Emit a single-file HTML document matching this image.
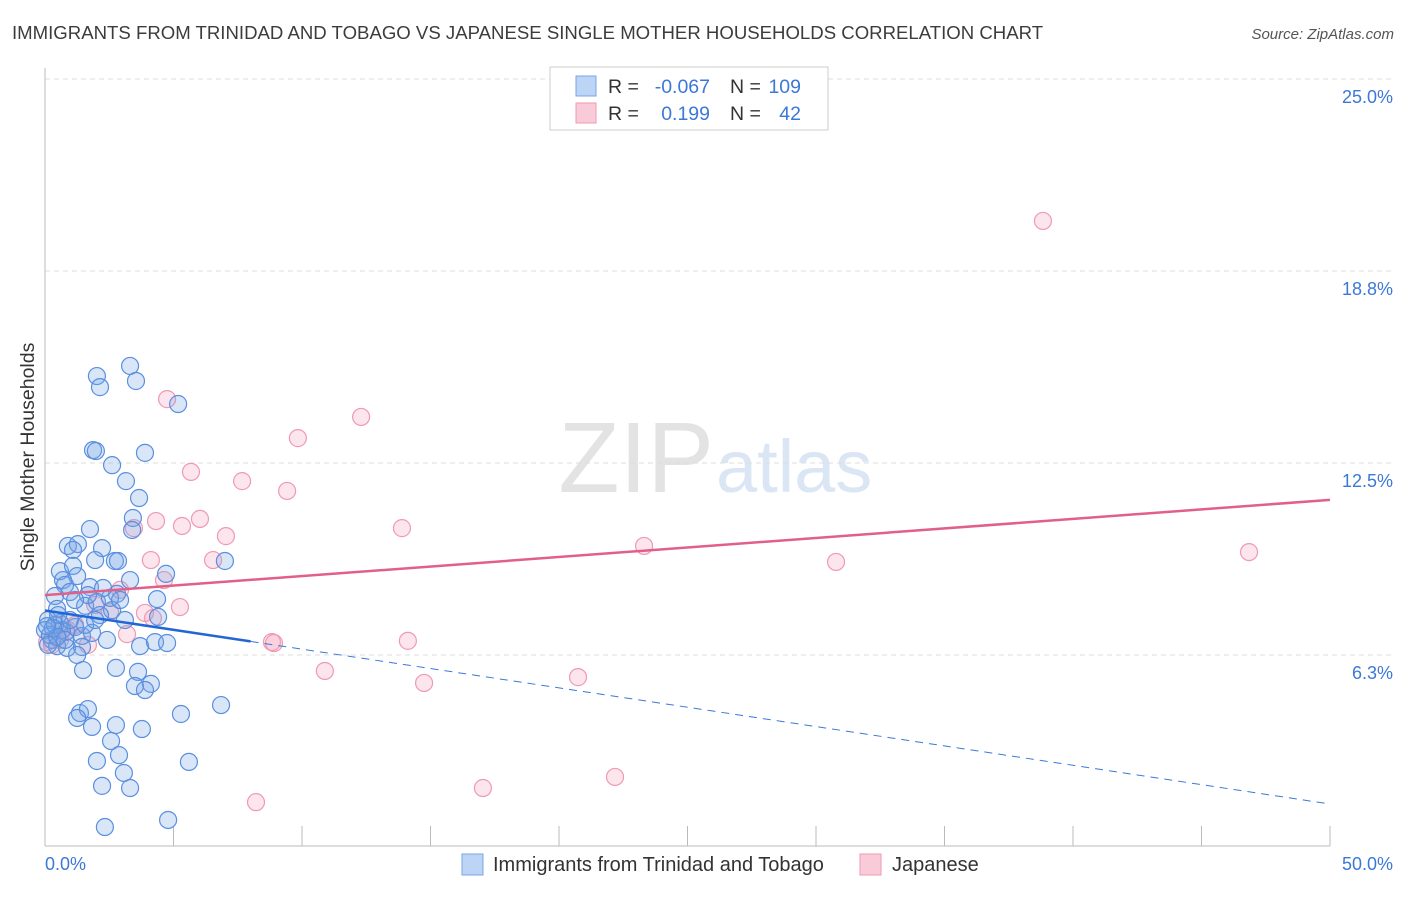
<!DOCTYPE html>
<html><head><meta charset="utf-8"><style>
body{margin:0;background:#fff;font-family:"Liberation Sans",sans-serif;}
svg text{font-family:"Liberation Sans",sans-serif;}
</style></head><body>
<svg id="chart" width="1406" height="892">
<text x="12" y="39" font-size="18.6" fill="#3c3c3c">IMMIGRANTS FROM TRINIDAD AND TOBAGO VS JAPANESE SINGLE MOTHER HOUSEHOLDS CORRELATION CHART</text>
<text x="1394" y="39" font-size="15" fill="#555" font-style="italic" text-anchor="end">Source: ZipAtlas.com</text>
<text x="714" y="492" font-size="100" fill="#e3e3e3" text-anchor="end" font-family="Liberation Serif">ZIP</text>
<text x="716" y="492" font-size="74" fill="#dbe6f5">atlas</text>
<g id="grid"></g><g id="pts"></g><g id="lines"></g>
<text transform="translate(34,457) rotate(-90)" font-size="19.5" fill="#333" text-anchor="middle">Single Mother Households</text>
<text x="45" y="870" font-size="18" fill="#3b78d8">0.0%</text>
<text x="1393" y="870" font-size="18" fill="#3b78d8" text-anchor="end">50.0%</text>
<g>
<rect x="550" y="67" width="278" height="63" fill="#fff" stroke="#ccc"/>
<rect x="576" y="76" width="20" height="20" fill="#bcd4f5" stroke="#7aa6e6"/>
<rect x="576" y="103" width="20" height="20" fill="#f9cad7" stroke="#ee9ab2"/>
<text x="608" y="93" font-size="19.5" fill="#333">R =</text>
<text x="710" y="93" font-size="19.5" fill="#3b78d8" text-anchor="end">-0.067</text>
<text x="730" y="93" font-size="19.5" fill="#333">N =</text>
<text x="801" y="93" font-size="19.5" fill="#3b78d8" text-anchor="end">109</text>
<text x="608" y="120" font-size="19.5" fill="#333">R =</text>
<text x="710" y="120" font-size="19.5" fill="#3b78d8" text-anchor="end">0.199</text>
<text x="730" y="120" font-size="19.5" fill="#333">N =</text>
<text x="801" y="120" font-size="19.5" fill="#3b78d8" text-anchor="end">42</text>
</g>
<g>
<rect x="462" y="854" width="21" height="21" fill="#bcd4f5" stroke="#7aa6e6"/>
<text x="493" y="871" font-size="20" fill="#333">Immigrants from Trinidad and Tobago</text>
<rect x="860" y="854" width="21" height="21" fill="#f9cad7" stroke="#ee9ab2"/>
<text x="892" y="871" font-size="20" fill="#333">Japanese</text>
</g>
</svg>
<script>
const yTicks=[6.3,12.5,18.8,25.0];
const yTickVals=[6.25,12.5,18.75,25];
const bluePx=[[130,366],[97,376],[136,381],[100,387],[178,404],[93,450],[96,451],[145,453],[112,465],[126,481],[139,498],[133,518],[90,529],[132,530],[68,546],[78,544],[73,550],[102,548],[115,561],[95,560],[118,561],[166,574],[225,561],[60,571],[73,566],[77,576],[63,580],[90,587],[65,585],[130,580],[117,594],[157,599],[70,592],[55,596],[57,609],[85,606],[97,602],[112,610],[125,620],[158,617],[48,620],[60,623],[66,632],[75,627],[82,636],[92,633],[52,640],[57,646],[107,640],[140,646],[155,642],[167,643],[67,648],[82,647],[77,655],[83,670],[116,668],[138,672],[151,684],[135,686],[145,690],[80,713],[88,709],[77,718],[92,727],[116,725],[142,729],[181,714],[221,705],[111,741],[119,755],[97,761],[124,773],[189,762],[102,786],[130,788],[105,827],[168,820],[45,630],[50,635],[55,625],[62,630],[48,645],[58,615],[70,620],[88,595],[100,615],[110,598],[75,600],[65,640],[85,625],[120,600],[95,620],[103,588],[53,628],[57,637],[47,626]];
const pinkPx=[[1043,221],[167,399],[361,417],[298,438],[191,472],[242,481],[287,491],[200,519],[156,521],[182,526],[134,528],[402,528],[226,536],[644,546],[1249,552],[151,560],[213,560],[836,562],[164,580],[120,590],[180,607],[145,613],[110,612],[153,618],[127,634],[272,642],[274,643],[408,641],[325,671],[424,683],[578,677],[615,777],[483,788],[256,802],[62,625],[68,630],[52,645],[75,625],[95,605],[88,645],[60,640],[47,642]];
const blueX=bluePx.map(p=>+((p[0]-45)/1285*50).toFixed(2));
const blueY=bluePx.map(p=>+((847-p[1])/192*6.25).toFixed(2));
const pinkX=pinkPx.map(p=>+((p[0]-45)/1285*50).toFixed(2));
const pinkY=pinkPx.map(p=>+((847-p[1])/192*6.25).toFixed(2));
const blueTrend=[[0,7.7],[50,1.4]];
const pinkTrend=[[0,8.2],[50,11.3]];
const NS='http://www.w3.org/2000/svg';
const sx=v=>45+v/50*1285, sy=v=>847-v/6.25*192;
function mk(t,a,par){const e=document.createElementNS(NS,t);for(const k in a)e.setAttribute(k,a[k]);par.appendChild(e);return e;}
const grid=document.getElementById('grid');
yTickVals.forEach((v,i)=>{
 const l=mk('line',{x1:45,x2:1393,y1:sy(v),y2:sy(v),stroke:'#ddd','stroke-dasharray':'5,4'},grid);
 
 
 const t=mk('text',{x:1393,y:sy(v)+24,'font-size':18,fill:'#3b78d8','text-anchor':'end'},grid);
 t.textContent=yTicks[i].toFixed(1)+'%';
 
 
});
mk('line',{x1:45,x2:45,y1:68,y2:846,stroke:'#bbb'},grid);
mk('line',{x1:45,x2:1330,y1:846,y2:846,stroke:'#bbb'},grid);
for(let i=0;i<=10;i++){const x=sx(i*5);const t=mk('line',{x1:x,x2:x,y1:826,y2:846,stroke:'#bbb'},grid);
 
 }
const pts=document.getElementById('pts');
pinkX.forEach((x,i)=>{const c=mk('circle',{cx:sx(x),cy:sy(pinkY[i]),r:8.5,fill:'rgba(244,160,186,0.28)',stroke:'#ee9ab2','stroke-width':1.2},pts);
 
 });
blueX.forEach((x,i)=>{const c=mk('circle',{cx:sx(x),cy:sy(blueY[i]),r:8.5,fill:'rgba(120,165,230,0.28)',stroke:'#5a8fe0','stroke-width':1.2},pts);
 
 });
const lines=document.getElementById('lines');
const pl=mk('line',{x1:sx(pinkTrend[0][0]),y1:sy(pinkTrend[0][1]),x2:sx(pinkTrend[1][0]),y2:sy(pinkTrend[1][1]),stroke:'#e0608a','stroke-width':2.5},lines);


const bx=8, byv=blueTrend[0][1]+(blueTrend[1][1]-blueTrend[0][1])*bx/50;
const bd=mk('line',{x1:sx(bx),y1:sy(byv),x2:sx(blueTrend[1][0]),y2:sy(blueTrend[1][1]),stroke:'#3b78d8','stroke-width':1,'stroke-dasharray':'8,6'},lines);


const bs=mk('line',{x1:sx(blueTrend[0][0]),y1:sy(blueTrend[0][1]),x2:sx(bx),y2:sy(byv),stroke:'#2266d6','stroke-width':2.5},lines);


</script>
</body></html>
